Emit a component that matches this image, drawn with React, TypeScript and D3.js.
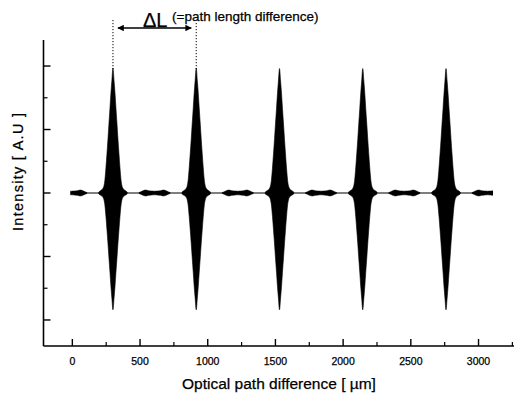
import React from "react";
import * as d3 from "d3";

// axis ticks (micrometres / arbitrary units)
const xTicks = [0, 500, 1000, 1500, 2000, 2500, 3000];
const xMinorTicks = [250, 750, 1250, 1750, 2250, 2750, 3250];
const yTicks = [-2, -1, 0, 1, 2];
const yMinorTicks = [-1.5, -0.5, 0.5, 1.5];

// interference peaks
const peakCenters = [300, 915, 1530, 2145, 2760];
const peakTop = [1.97, 1.97, 1.96, 1.96, 1.96];
const peakBottom = [1.84, 1.84, 1.84, 1.84, 1.84];
// envelope of one peak: distance from centre (um) -> fraction of amplitude
const peakOffsets = [0, 8, 15, 22, 30, 37, 44, 52, 60, 66, 75, 90, 105];
const peakFraction = [1, 0.9, 0.8, 0.68, 0.55, 0.43, 0.32, 0.2, 0.1, 0.06, 0.035, 0.02, 0.008];

// small side lobes between peaks
const lobeCenters = [-7, 607, 1222, 1837, 2452, 3067];
const lobeOffsets = [-115, -100, -80, -65, -45, -20, 0, 20, 45, 65, 80, 100, 115];
const lobeAmp = [0.006, 0.02, 0.04, 0.046, 0.036, 0.03, 0.028, 0.03, 0.036, 0.046, 0.04, 0.02, 0.006];

const signalRange = [-15, 3107];
const deltaL = [300, 915];

const W = 516;
const H = 398;
const font = "'Liberation Sans', Arial, Helvetica, sans-serif";

const x = d3.scaleLinear().domain([-213, 3262]).range([43.5, 514]);
const y = d3.scaleLinear().domain([-2.41, 2.41]).range([346, 40]);

type P = { x: number; lo: number; hi: number };

const area = d3
  .area<P>()
  .x((d) => x(d.x))
  .y0((d) => y(d.lo))
  .y1((d) => y(d.hi))
  .curve(d3.curveMonotoneX);

function peakPath(i: number) {
  const c = peakCenters[i];
  const pts: P[] = [];
  for (let k = peakOffsets.length - 1; k > 0; k--) {
    pts.push({ x: c - peakOffsets[k], lo: -peakBottom[i] * peakFraction[k], hi: peakTop[i] * peakFraction[k] });
  }
  peakOffsets.forEach((o, k) => {
    pts.push({ x: c + o, lo: -peakBottom[i] * peakFraction[k], hi: peakTop[i] * peakFraction[k] });
  });
  return area(pts) || "";
}

function lobePath(c: number) {
  const pts: P[] = lobeOffsets.map((o, k) => ({ x: c + o, lo: -lobeAmp[k], hi: lobeAmp[k] }));
  return area(pts) || "";
}

// scanned text looks a bit heavier than plain sans
const ink = { stroke: "#000", strokeWidth: 0.25 };

export default function App() {
  const x0 = x.range()[0];
  const yb = y.range()[0];
  return (
    <svg width={W} height={H} style={{ position: "absolute", left: 0, top: 0, background: "#fff" }}>
      <defs>
        <clipPath id="sig">
          <rect x={x(signalRange[0])} y={0} width={x(signalRange[1]) - x(signalRange[0])} height={H} />
        </clipPath>
        <marker id="ah" viewBox="0 0 10 10" refX="9" refY="5" markerWidth="7" markerHeight="5" orient="auto-start-reverse">
          <path d="M0,0 L10,5 L0,10 z" fill="#000" />
        </marker>
      </defs>

      {/* axes */}
      <line x1={x0} x2={x0} y1={y.range()[1]} y2={yb} stroke="#000" strokeWidth={1.6} />
      <line x1={x0} x2={514} y1={yb} y2={yb} stroke="#000" strokeWidth={1.5} />
      {yTicks.map((t) => (
        <line key={"yt" + t} x1={x0} x2={x0 + 7} y1={y(t)} y2={y(t)} stroke="#000" strokeWidth={1.4} />
      ))}
      {yMinorTicks.map((t) => (
        <line key={"ym" + t} x1={x0} x2={x0 + 4} y1={y(t)} y2={y(t)} stroke="#000" strokeWidth={1.2} />
      ))}
      {xTicks.map((t) => (
        <g key={"xt" + t}>
          <line x1={x(t)} x2={x(t)} y1={yb} y2={yb - 7} stroke="#000" strokeWidth={1.4} />
          <text x={x(t)} y={365} textAnchor="middle" fontSize={10.5} fontFamily={font} {...ink}>
            {t}
          </text>
        </g>
      ))}
      {xMinorTicks.map((t) => (
        <line key={"xm" + t} x1={x(t)} x2={x(t)} y1={yb} y2={yb - 4} stroke="#000" strokeWidth={1.2} />
      ))}

      {/* signal */}
      <g clipPath="url(#sig)">
        <line x1={x(signalRange[0])} x2={x(signalRange[1])} y1={y(0)} y2={y(0)} stroke="#000" strokeWidth={1.2} />
        {lobeCenters.map((c) => (
          <path key={"l" + c} d={lobePath(c)} fill="#000" stroke="#000" strokeWidth={0.6} />
        ))}
        {peakCenters.map((c, i) => (
          <path key={"p" + c} d={peakPath(i)} fill="#000" stroke="#000" strokeWidth={0.6} />
        ))}
      </g>

      {/* delta L annotation */}
      {deltaL.map((d, i) => (
        <line
          key={"dl" + d}
          x1={x(d)}
          x2={x(d)}
          y1={i === 0 ? 20 : 23}
          y2={y(peakTop[i]) + 1}
          stroke="#000"
          strokeWidth={1}
          strokeDasharray="1.2,1.8"
        />
      ))}
      <line
        x1={x(deltaL[0]) + 5}
        x2={x(deltaL[1]) - 5}
        y1={28}
        y2={28}
        stroke="#000"
        strokeWidth={1.3}
        markerStart="url(#ah)"
        markerEnd="url(#ah)"
      />
      <text x={143} y={27} fontSize={20} fontFamily={font} {...ink}>
        ΔL
      </text>
      <text x={172} y={21} fontSize={13.5} fontFamily={font} {...ink}>
        (=path length difference)
      </text>

      {/* axis titles */}
      <text x={279} y={389} textAnchor="middle" fontSize={15.5} fontFamily={font} {...ink}>
        Optical path difference [ µm]
      </text>
      <text
        transform={`translate(23,172) rotate(-90)`}
        textAnchor="middle"
        fontSize={14.5}
        fontFamily={font}
        textLength={118}
        lengthAdjust="spacing"
        {...ink}
      >
        Intensity [ A.U ]
      </text>
    </svg>
  );
}
